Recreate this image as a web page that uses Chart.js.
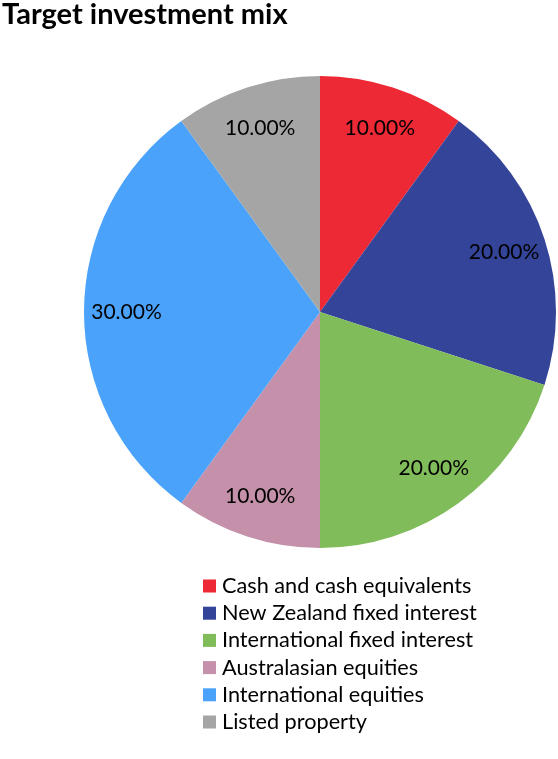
<!DOCTYPE html>
<html>
<head>
<meta charset="utf-8">
<script src="https://cdn.jsdelivr.net/npm/chart.js@4"></script>
<style>
  body { margin: 0; background: #fff; }
</style>
</head>
<body>
<canvas id="grafico" width="558" height="759"></canvas>
<script>
const titulo = 'Target investment mix';
const etiquetas = ['Cash and cash equivalents', 'New Zealand fixed interest', 'International fixed interest', 'Australasian equities', 'International equities', 'Listed property'];
const valores = [10, 20, 20, 10, 30, 10];
const colores = ['#ED2935', '#344499', '#80BC5A', '#C490AA', '#4AA2FA', '#A5A5A5'];

// etiquetas de porcentaje, titulo y leyenda (una por linea)
const extras = {
    id: 'extras',
    afterDatasetsDraw(chart) {
        const ctx = chart.ctx;
        const meta = chart.getDatasetMeta(0);
        const total = valores.reduce((a, b) => a + b, 0);

        ctx.save();
        ctx.fillStyle = '#000';
        ctx.font = '21px Lato';
        ctx.textAlign = 'center';
        ctx.textBaseline = 'middle';
        meta.data.forEach((arco, i) => {
            const p = arco.getProps(['x', 'y', 'startAngle', 'endAngle', 'outerRadius'], true);
            const medio = (p.startAngle + p.endAngle) / 2;
            const r = p.outerRadius * 0.82;
            const texto = (valores[i] / total * 100).toFixed(2) + '%';
            ctx.fillText(texto, p.x + Math.cos(medio) * r, p.y + Math.sin(medio) * r);
        });

        ctx.textAlign = 'left';
        ctx.textBaseline = 'alphabetic';
        ctx.font = 'bold 29px Lato';
        ctx.fillText(titulo, 2, 24);

        ctx.font = '21.7px Lato';
        ctx.textBaseline = 'middle';
        etiquetas.forEach((nombre, i) => {
            const y = 586 + i * 27.2;
            ctx.fillStyle = colores[i];
            ctx.fillRect(203, y - 6.5, 13, 13);
            ctx.fillStyle = '#000';
            ctx.fillText(nombre, 222, y);
        });
        ctx.restore();
    }
};

const ctx = document.getElementById('grafico').getContext('2d');
const miGrafico = new Chart(ctx, {
    type: 'pie',
    data: {
        labels: etiquetas,
        datasets: [{
            data: valores,
            backgroundColor: colores,
            borderWidth: 0,
            hoverOffset: 0
        }]
    },
    options: {
        responsive: false,
        animation: false,
        layout: {
            padding: { left: 84, right: 2, top: 76, bottom: 211 }
        },
        plugins: {
            legend: { display: false },
            title: { display: false },
            tooltip: { enabled: false }
        }
    },
    plugins: [extras]
});
</script>
</body>
</html>
